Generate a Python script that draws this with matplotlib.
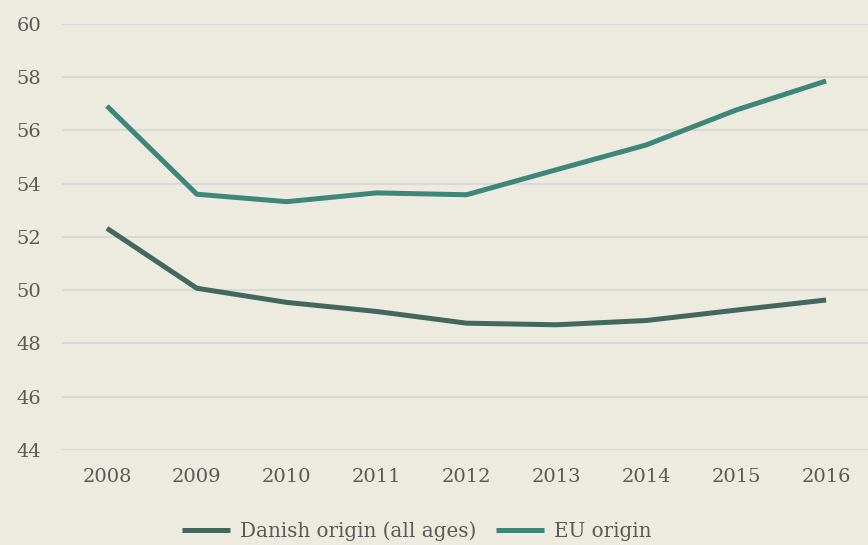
import matplotlib
matplotlib.use("Agg")
import matplotlib.pyplot as plt

years = ["2008", "2009", "2010", "2011", "2012", "2013", "2014", "2015", "2016"]
danish = [52.32, 50.07, 49.54, 49.2, 48.76, 48.7, 48.86, 49.25, 49.63]
eu = [56.91, 53.6, 53.32, 53.65, 53.58, 54.52, 55.45, 56.76, 57.85]
yticks = [44, 46, 48, 50, 52, 54, 56, 58, 60]

bg = "#edebe0"
text_c = "#595959"
plt.rcParams["font.family"] = ["DejaVu Serif"]

fig = plt.figure(figsize=(8.68, 5.45), dpi=100, facecolor=bg)
ax = fig.add_axes([62/868, 1-450/545, (871-62)/868, (450-23.7)/545])
ax.set_facecolor(bg)

x = list(range(len(years)))
ax.plot(x, danish, color="#41675f", lw=3.6, solid_capstyle="butt", label="Danish origin (all ages)", zorder=3)
ax.plot(x, eu, color="#3d8679", lw=3.6, solid_capstyle="butt", label="EU origin", zorder=3)

ax.set_xlim(-0.5, len(years) - 0.5)
ax.set_ylim(44, 60)
ax.set_yticks(yticks)
ax.set_yticklabels([str(v) for v in yticks])
ax.set_xticks(x)
ax.set_xticklabels(years)
ax.grid(axis="y", color="#d8d8d8", lw=1.5, zorder=0)
ax.set_axisbelow(True)
for s in ax.spines.values():
    s.set_visible(False)
ax.tick_params(axis="both", length=0, labelsize=14, colors=text_c)
ax.tick_params(axis="y", pad=15)
ax.tick_params(axis="x", pad=13)

leg = fig.legend(loc="lower center", bbox_to_anchor=(0.48, -0.025), ncol=2, frameon=False,
                 fontsize=14.3, handlelength=2.4, columnspacing=1.0, handletextpad=0.5)
for t in leg.get_texts():
    t.set_color(text_c)

fig.savefig("out.png", dpi=100, facecolor=bg)
